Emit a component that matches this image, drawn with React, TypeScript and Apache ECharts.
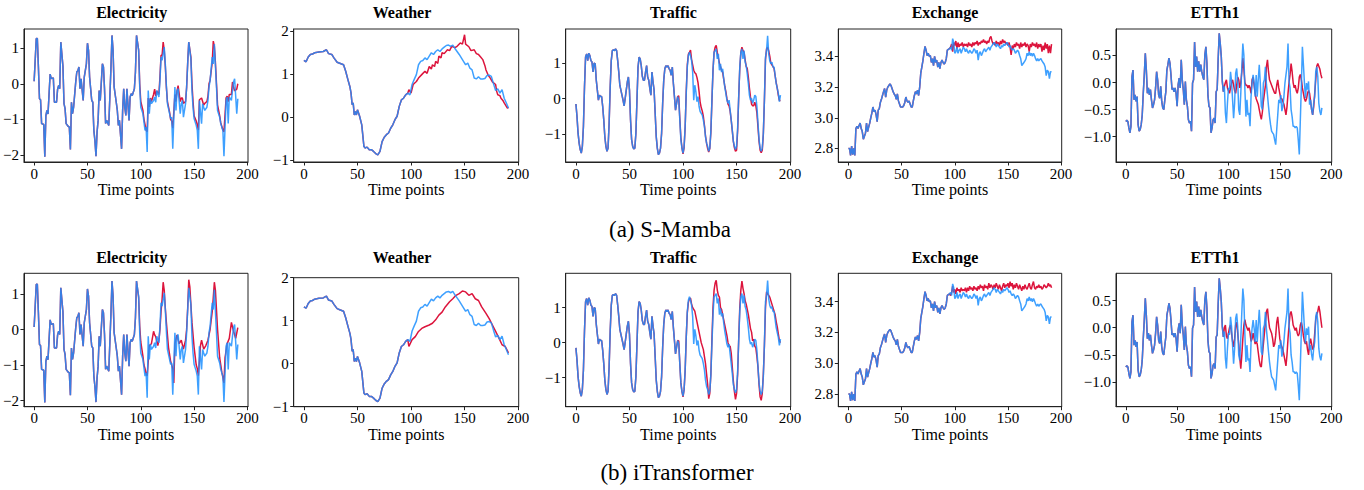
import React, { useEffect, useRef } from "react";
import * as echarts from "echarts";

type P = [number, number];

// ---------- DATA ----------
const X_TICKS = [0, 50, 100, 150, 200];
const PRED_START = 96;

const electricityTruth: P[] = [
  [0, 0.07], [2, 1.27], [3, 1.27], [4, 0.47], [5, -0.42], [6, -0.45], [7, -1.12], [8, -1.13], [9, -1.15], [10, -2.05],
  [11, -0.9], [12, -0.75], [13, -0.85], [15, 0.27], [16, 0.15], [18, 0.16], [19, -0.52], [21, -0.52], [22, -0.15], [23, -0.05],
  [24, -0.14], [25, 1.17], [27, 0.5], [28, -0.56], [29, -0.7], [30, -1.12], [32, -1.2], [33, -1.22], [34, -1.85], [35, -0.52],
  [36, -0.84], [37, -0.66], [39, 0.05], [40, 0.33], [41, 0.37], [42, 0.47], [43, -0.14], [44, 0.14], [46, -0.47], [47, 0.19],
  [49, 0.56], [50, 1.14], [51, 0.94], [52, 0.19], [54, -0.47], [55, -0.52], [56, -1.31], [57, -1.6], [58, -2.04], [59, -1.36],
  [60, -1.03], [61, -0.19], [62, -0.47], [64, 0.56], [65, 0.47], [66, -0.14], [67, -1.12], [68, -1.03], [70, -1.17], [71, -0.37],
  [72, 0.42], [73, 1.36], [74, 0.94], [75, -0.09], [77, -0.52], [78, -0.75], [79, -1.17], [80, -1.03], [82, -1.83], [83, -0.75],
  [84, -0.14], [85, -0.66], [86, -0.89], [87, -0.14], [89, -1.03], [90, -0.37], [91, -0.28], [92, -0.33], [94, -0.14], [95, 0.33],
  [96, 1.36], [98, 0.94], [99, -0.09], [100, -0.66], [102, -0.84], [103, -1.08], [104, -1.31], [105, -1.22], [106, -1.92], [107, -0.19],
  [108, -0.84], [109, -0.42], [110, -0.56], [112, -0.47], [113, -0.37], [114, -0.52], [115, -0.19], [117, -0.37], [118, 0.09], [119, 0.75],
  [120, 0.66], [122, 1.03], [123, 0.56], [124, -0.05], [125, -0.56], [127, -0.84], [128, -0.98], [129, -0.94], [130, -1.83], [132, -0.09],
  [133, -0.75], [134, -0.19], [135, -0.14], [137, -0.84], [138, -0.56], [139, -0.47], [140, -0.94], [142, -0.56], [143, -0.09], [144, 0.56],
  [145, 1.17], [147, 0.7], [148, -0.19], [149, -0.66], [150, -0.98], [152, -1.17], [153, -1.31], [154, -1.83], [155, -0.47], [157, -1.12],
  [158, -0.56], [159, -0.66], [160, -0.75], [162, -0.66], [163, -0.47], [164, -0.09], [165, 0.09], [167, 0.75], [168, 0.56], [169, 1.12],
  [170, 0.5], [171, -0.09], [172, -0.75], [174, -0.94], [175, -1.12], [176, -1.22], [177, -1.31], [178, -2.04], [180, -0.47], [181, -0.37],
  [182, -1.12], [183, -0.37], [185, -0.47], [186, -0.19], [187, 0.05], [188, 0.14], [190, -0.84], [191, -0.42],
];
const electricitySMamba: P[] = [
  [98, 0.95], [99, 0.0], [100, -0.5], [102, -0.75], [103, -1.0], [104, -1.15], [105, -1.3], [106, -1.35], [107, -0.4], [108, -0.65],
  [109, -0.4], [110, -0.5], [112, -0.3], [113, -0.15], [114, -0.35], [115, -0.2], [117, -0.3], [118, 0.2], [119, 0.8], [120, 0.8],
  [121, 1.17], [122, 0.95], [123, 0.5], [124, -0.1], [125, -0.5], [127, -0.8], [128, -1.0], [129, -1.05], [130, -1.25], [132, -0.3],
  [133, -0.5], [134, -0.2], [135, -0.05], [137, -0.5], [138, -0.4], [139, -0.4], [140, -0.55], [142, -0.5], [143, -0.1], [144, 0.6],
  [145, 1.17], [147, 0.75], [148, 0.0], [149, -0.5], [150, -0.9], [152, -1.05], [153, -1.15], [154, -1.3], [155, -0.45], [157, -0.4],
  [158, -0.5], [159, -0.6], [160, -0.55], [162, -0.5], [163, -0.35], [164, 0.0], [165, 0.1], [167, 0.6], [168, 1.2], [169, 1.05],
  [170, 0.6], [171, 0.0], [172, -0.6], [174, -0.9], [175, -1.1], [176, -1.2], [177, -1.3], [178, -1.35], [180, -0.4], [181, -0.35],
  [182, -0.5], [183, -0.3], [185, -0.3], [186, 0.05], [187, -0.1], [188, -0.2], [190, -0.15], [191, 0.0],
];
const electricityITransformer: P[] = [
  [98, 0.9], [99, 0.1], [100, -0.35], [102, -0.75], [103, -1.0], [104, -1.1], [105, -1.25], [106, -1.3], [107, -0.9], [108, -0.45],
  [110, -0.4], [112, -0.05], [113, -0.15], [114, -0.2], [116, -0.45], [117, -0.3], [118, 0.0], [119, 0.5], [120, 0.85], [121, 1.33],
  [122, 1.1], [123, 0.6], [124, 0.2], [126, -0.5], [128, -0.9], [129, -1.0], [130, -1.1], [131, -1.5], [132, -0.4], [134, -0.15],
  [136, -0.4], [138, -0.3], [140, -0.55], [142, -0.3], [143, 0.0], [144, 0.6], [145, 1.4], [146, 1.2], [147, 0.7], [148, 0.2],
  [150, -0.5], [152, -1.0], [153, -1.1], [154, -1.3], [156, -0.45], [157, -0.3], [159, -0.55], [161, -0.45], [163, -0.3], [165, 0.0],
  [167, 0.5], [168, 0.9], [169, 1.33], [170, 1.1], [172, 0.0], [174, -0.8], [176, -1.2], [178, -1.5], [179, -0.8], [181, -0.4],
  [183, -0.25], [185, 0.2], [187, -0.05], [189, -0.25], [191, 0.05],
];

const weatherTruth: P[] = [
  [0, 1.32], [2, 1.29], [4, 1.4], [6, 1.46], [8, 1.47], [10, 1.5], [14, 1.52], [18, 1.53], [21, 1.57], [23, 1.48],
  [26, 1.46], [28, 1.38], [31, 1.28], [34, 1.25], [37, 1.22], [39, 1.07], [41, 0.88], [43, 0.7], [44, 0.56], [45, 0.29],
  [46, 0.33], [47, 0.05], [48, 0.13], [49, 0.05], [50, 0.17], [52, 0.02], [54, -0.18], [56, -0.68], [57, -0.72], [59, -0.7],
  [61, -0.76], [63, -0.76], [65, -0.8], [67, -0.85], [69, -0.88], [71, -0.8], [73, -0.57], [75, -0.47], [77, -0.41], [79, -0.37],
  [81, -0.26], [83, -0.18], [85, -0.06], [87, 0.02], [89, 0.25], [91, 0.4], [93, 0.44], [95, 0.52], [97, 0.56], [99, 0.52],
  [101, 0.76], [103, 0.88], [105, 0.99], [107, 1.22], [109, 1.3], [111, 1.32], [113, 1.38], [115, 1.34], [117, 1.42], [119, 1.5],
  [121, 1.46], [123, 1.53], [125, 1.57], [127, 1.53], [129, 1.59], [131, 1.63], [133, 1.67], [135, 1.68], [137, 1.65], [139, 1.68],
  [141, 1.6], [143, 1.53], [145, 1.46], [147, 1.38], [149, 1.3], [151, 1.22], [153, 1.26], [155, 1.14], [157, 1.1], [159, 0.91],
  [161, 0.89], [163, 0.94], [165, 0.89], [167, 0.89], [169, 0.9], [171, 0.97], [173, 0.98], [175, 0.95], [177, 0.78], [179, 0.62],
  [181, 0.66], [183, 0.56], [185, 0.64], [187, 0.44], [189, 0.33], [191, 0.21],
];
const weatherSMamba: P[] = [
  [98, 0.64], [100, 0.56], [102, 0.76], [105, 0.83], [107, 0.91], [110, 0.99], [113, 1.07], [115, 1.02], [117, 1.18], [119, 1.12],
  [120, 1.22], [122, 1.18], [123, 1.3], [125, 1.25], [126, 1.42], [128, 1.38], [129, 1.5], [131, 1.48], [134, 1.57], [136, 1.55],
  [138, 1.65], [141, 1.62], [143, 1.65], [146, 1.73], [148, 1.7], [150, 1.92], [151, 1.7], [154, 1.64], [156, 1.55], [159, 1.57],
  [161, 1.48], [163, 1.46], [165, 1.4], [167, 1.34], [169, 1.2], [170, 1.1], [172, 0.98], [174, 0.91], [176, 0.82], [179, 0.76],
  [180, 0.6], [181, 0.52], [183, 0.5], [184, 0.44], [186, 0.38], [187, 0.33], [189, 0.25], [190, 0.21], [191, 0.22],
];
const weatherITransformer: P[] = [
  [98, 0.4], [101, 0.56], [104, 0.63], [107, 0.75], [110, 0.82], [113, 0.86], [117, 0.9], [120, 0.94], [123, 1.02], [126, 1.13],
  [129, 1.2], [132, 1.32], [136, 1.44], [139, 1.51], [142, 1.59], [145, 1.63], [148, 1.69], [151, 1.67], [154, 1.59], [157, 1.63],
  [160, 1.51], [163, 1.47], [166, 1.32], [170, 1.17], [173, 1.05], [176, 0.9], [179, 0.75], [182, 0.6], [185, 0.44], [188, 0.4],
  [191, 0.25],
];

// Traffic: one value per time point (index = time point)
const trafficTruth: number[] = [
  -0.15, -0.5, -0.97, -1.25, -1.43, -1.53, -1.34, -0.78, 0.33, 1.17,
  1.26, 1.07, 1.28, 1.21, 1.07, 1.03, 0.75, 1.0, 0.98, 0.52,
  0.24, -0.04, 0.1, 0.06, 0.06, -0.22, -0.6, -1.07, -1.34, -1.48,
  -1.39, -0.69, 0.33, 1.07, 1.35, 1.37, 1.35, 1.4, 1.35, 1.07,
  0.75, 0.38, 0.24, 0.1, -0.04, -0.2, 0.01, 0.24, 0.47, 0.61,
  0.24, -0.6, -1.15, -1.34, -1.41, -1.39, -0.97, -0.04, 0.89, 1.17,
  1.12, 0.93, 0.63, 0.52, 0.52, 0.75, 0.93, 0.61, 0.52, 0.29,
  0.1, 0.75, 0.47, 0.24, -0.41, -1.07, -1.39, -1.57, -1.53, -1.39,
  -0.97, -0.13, 0.52, 0.84, 0.93, 0.89, 0.93, 0.84, 0.8, 0.66,
  0.89, 0.43, 0.06, -0.32, -0.13, 0.06, -0.04, -0.6, -1.15, -1.39,
  -1.53, -1.34, -0.78, 0.15, 0.89, 1.21, 1.31, 1.21, 1.07, 0.75,
  -0.04, 0.38, 0.2, -0.08, 0.06, -0.22, -0.36, -0.41, -0.46, -0.6,
  -0.78, -1.07, -1.25, -1.34, -1.48, -1.39, -0.92, -0.04, 0.8, 1.31,
  1.35, 1.4, 1.12, 1.26, 0.8, 0.98, 0.75, 0.84, 0.56, 0.33,
  0.15, -0.04, -0.13, -0.04, -0.32, -0.6, -0.88, -1.2, -1.34, -1.43,
  -1.34, -0.83, 0.06, 0.89, 1.31, 1.4, 1.12, 1.35, 1.03, 0.93,
  0.7, 0.43, 0.1, -0.04, 0.01, -0.13, -0.04, 0.1, 0.06, -0.22,
  -0.69, -1.15, -1.39, -1.48, -1.39, -0.97, -0.04, 1.17, 1.35, 1.77,
  1.26, 1.07, 0.98, 1.03, 0.89, 0.89, 0.66, 0.43, 0.29, 0.15,
  -0.08, 0.1,
];
// Predictions: one value per time point from PRED_START (96) to 191
const trafficSMamba: number[] = [
  0.08, -0.55, -1.1, -1.38,
  -1.55, -1.38, -0.8, 0.2, 0.95, 1.25, 1.3, 1.37, 1.1, 0.95,
  0.8, 0.73, 0.7, 0.6, 0.45, 0.2, -0.1, -0.25, -0.35, -0.5,
  -0.75, -1.05, -1.25, -1.4, -1.5, -1.4, -0.95, -0.05, 0.8, 1.3,
  1.45, 1.5, 1.3, 1.15, 1.0, 0.9, 0.8, 0.75, 0.55, 0.35,
  0.2, 0.0, -0.15, -0.2, -0.35, -0.6, -0.9, -1.2, -1.38, -1.48,
  -1.45, -0.9, 0.05, 0.85, 1.3, 1.45, 1.35, 1.3, 1.1, 0.9,
  0.85, 0.6, 0.3, 0.05, -0.15, -0.2, -0.2, -0.1, -0.2, -0.4,
  -0.8, -1.2, -1.45, -1.52, -1.45, -1.0, -0.05, 1.1, 1.4, 1.45,
  1.35, 1.2, 1.0, 0.95, 0.9, 0.85, 0.65, 0.45, 0.3, 0.1,
  -0.05, -0.05,
];
const trafficITransformer: number[] = [
  0.05, -0.6, -1.15, -1.4,
  -1.55, -1.35, -0.8, 0.15, 0.85, 1.15, 1.25, 1.27, 1.1, 1.0,
  0.95, 0.9, 0.75, 0.6, 0.45, 0.3, 0.15, 0.0, -0.1, -0.2,
  -0.4, -0.6, -0.9, -1.2, -1.6, -1.45, -0.9, 0.1, 1.0, 1.5,
  1.7, 1.78, 1.5, 1.35, 1.3, 1.0, 0.95, 0.8, 0.65, 0.5,
  0.35, 0.2, 0.0, -0.1, -0.1, -0.3, -0.7, -1.1, -1.4, -1.62,
  -1.45, -0.9, 0.1, 1.0, 1.5, 1.76, 1.55, 1.4, 1.2, 1.1,
  0.95, 0.8, 0.6, 0.4, 0.3, 0.05, 0.1, -0.1, -0.15, -0.4,
  -0.7, -1.2, -1.55, -1.65, -1.45, -0.9, -0.1, 1.0, 1.45, 1.4,
  1.35, 1.3, 1.2, 1.1, 1.0, 0.9, 0.8, 0.6, 0.45, 0.25,
  0.05, 0.0,
];

const exchangeTruth: number[] = [
  2.8, 2.8, 2.755, 2.815, 2.76, 2.8, 2.755, 2.93, 2.945, 2.93,
  2.95, 2.965, 2.93, 2.91, 2.86, 2.88, 2.9, 2.965, 2.91, 2.94,
  2.965, 3.0, 3.03, 3.07, 3.04, 3.05, 3.02, 2.975, 3.05, 3.06,
  3.1, 3.12, 3.145, 3.17, 3.19, 3.135, 3.18, 3.2, 3.21, 3.22,
  3.21, 3.19, 3.17, 3.155, 3.145, 3.12, 3.155, 3.11, 3.09, 3.07,
  3.07, 3.07, 3.08, 3.1, 3.135, 3.11, 3.1, 3.11, 3.09, 3.07,
  3.07, 3.11, 3.145, 3.17, 3.155, 3.18, 3.145, 3.2, 3.29, 3.33,
  3.37, 3.42, 3.465, 3.44, 3.405, 3.42, 3.4, 3.405, 3.36, 3.385,
  3.34, 3.4, 3.36, 3.375, 3.33, 3.36, 3.32, 3.36, 3.375, 3.36,
  3.35, 3.36, 3.385, 3.44, 3.445, 3.45, 3.46, 3.44, 3.515, 3.49,
  3.42, 3.43, 3.46, 3.42, 3.44, 3.45, 3.42, 3.44, 3.46, 3.45,
  3.43, 3.45, 3.43, 3.42, 3.44, 3.43, 3.42, 3.43, 3.45, 3.44,
  3.42, 3.44, 3.375, 3.42, 3.43, 3.405, 3.42, 3.44, 3.45, 3.43,
  3.44, 3.45, 3.46, 3.44, 3.46, 3.47, 3.48, 3.49, 3.48, 3.46,
  3.48, 3.47, 3.46, 3.45, 3.47, 3.46, 3.48, 3.47, 3.48, 3.49,
  3.48, 3.46, 3.47, 3.45, 3.44, 3.45, 3.44, 3.42, 3.43, 3.44,
  3.43, 3.405, 3.385, 3.34, 3.35, 3.36, 3.37, 3.385, 3.42, 3.405,
  3.43, 3.405, 3.42, 3.4, 3.42, 3.405, 3.385, 3.37, 3.385, 3.37,
  3.38, 3.385, 3.37, 3.36, 3.35, 3.33, 3.275, 3.31, 3.3, 3.255,
  3.3, 3.3,
];
const exchangeSMamba: number[] = [
  3.46, 3.48, 3.43, 3.49,
  3.47, 3.5, 3.45, 3.49, 3.46, 3.48, 3.47, 3.49, 3.46, 3.48,
  3.47, 3.48, 3.46, 3.49, 3.47, 3.48, 3.46, 3.49, 3.47, 3.49,
  3.48, 3.5, 3.47, 3.49, 3.48, 3.5, 3.49, 3.51, 3.49, 3.5,
  3.48, 3.5, 3.49, 3.52, 3.53, 3.5, 3.48, 3.49, 3.47, 3.5,
  3.48, 3.49, 3.47, 3.5, 3.48, 3.51, 3.49, 3.5, 3.48, 3.49,
  3.47, 3.49, 3.46, 3.41, 3.47, 3.45, 3.48, 3.46, 3.49, 3.47,
  3.48, 3.45, 3.49, 3.46, 3.48, 3.47, 3.49, 3.46, 3.48, 3.47,
  3.43, 3.48, 3.46, 3.49, 3.47, 3.48, 3.46, 3.49, 3.45, 3.48,
  3.46, 3.48, 3.43, 3.47, 3.44, 3.49, 3.45, 3.48, 3.42, 3.47,
  3.42, 3.48,
];
const exchangeITransformer: number[] = [
  3.44, 3.46, 3.5, 3.46,
  3.48, 3.45, 3.49, 3.47, 3.48, 3.46, 3.49, 3.47, 3.48, 3.47,
  3.49, 3.46, 3.49, 3.47, 3.5, 3.48, 3.49, 3.47, 3.5, 3.48,
  3.49, 3.47, 3.5, 3.48, 3.51, 3.49, 3.5, 3.47, 3.51, 3.49,
  3.5, 3.48, 3.52, 3.49, 3.51, 3.5, 3.48, 3.51, 3.49, 3.52,
  3.5, 3.48, 3.51, 3.49, 3.47, 3.5, 3.52, 3.49, 3.51, 3.5,
  3.52, 3.49, 3.53, 3.5, 3.52, 3.48, 3.51, 3.49, 3.52, 3.5,
  3.48, 3.51, 3.49, 3.47, 3.5, 3.48, 3.51, 3.49, 3.48, 3.5,
  3.52, 3.49, 3.48, 3.51, 3.53, 3.49, 3.48, 3.5, 3.49, 3.51,
  3.49, 3.5, 3.48, 3.49, 3.51, 3.5, 3.49, 3.5, 3.52, 3.5,
  3.51, 3.49,
];

const etth1Truth: number[] = [
  -0.72, -0.7, -0.72, -0.84, -0.93, -0.81, 0.11, 0.23, -0.32, -0.23,
  -0.35, -0.26, -0.78, -0.9, -0.87, -0.78, -0.6, -0.2, 0.14, 0.54,
  0.23, -0.2, -0.1, -0.23, -0.13, -0.32, -0.47, -0.41, -0.32, -0.1,
  0.2, 0.05, -0.23, -0.29, -0.07, -0.35, -0.47, -0.5, -0.32, -0.17,
  0.23, 0.33, 0.45, 0.36, 0.14, -0.13, -0.1, -0.17, -0.1, -0.2,
  -0.44, -0.04, 0.08, -0.1, 0.42, 0.05, -0.13, -0.41, 0.02, -0.32,
  -0.44, -0.69, -0.75, -0.72, -0.9, -0.01, 0.05, 0.75, 0.29, 0.48,
  0.2, 0.39, 0.2, 0.33, 0.2, 0.11, 0.05, 0.51, 0.66, 0.36,
  -0.23, -0.44, -0.47, -0.93, -0.84, -0.69, -0.66, -0.75, -0.17, -0.13,
  0.45, 0.91, 0.72, 0.48, 0.02, -0.17, -0.07, -0.56, -0.75, -0.38,
  -0.1, -0.13, 0.2, 0.02, -0.32, -0.66, -0.38, 0.17, 0.26, 0.02,
  -0.5, -0.6, -0.2, 0.29, 0.72, 0.51, -0.13, -0.63, -0.32, -0.6,
  -0.56, -0.81, -0.26, -0.01, 0.14, -0.01, -0.26, 0.14, -0.26, 0.05,
  0.33, -0.01, -0.44, -0.5, -0.01, 0.05, 0.29, -0.04, -0.23, -0.44,
  -0.63, -0.78, -0.9, -0.93, -0.96, -1.06, -1.15, -0.87, -0.6, -0.32,
  -0.38, -0.23, -0.53, -0.44, -0.26, -0.01, 0.14, 0.29, 0.72, 0.02,
  -0.1, -0.5, -0.63, -0.81, -0.81, -0.84, -0.81, -0.84, -1.06, -1.33,
  -0.69, -0.07, 0.66, 0.33, -0.01, -0.29, -0.01, -0.13, 0.02, -0.41,
  -0.32, -0.5, -0.6, -0.38, -0.26, 0.2, 0.29, 0.11, -0.38, -0.53,
  -0.6, -0.47,
];
const etth1SMamba: number[] = [
  -0.07, 0.0, 0.05, -0.1,
  -0.15, -0.2, -0.1, 0.0, 0.05, -0.05, -0.15, -0.2, -0.05, 0.1,
  0.05, -0.1, 0.0, 0.2, 0.45, 0.25, 0.0, -0.05, -0.05, -0.1,
  -0.05, -0.1, -0.2, 0.05, 0.1, -0.05, -0.2, -0.3, -0.35, -0.4,
  -0.5, -0.6, -0.68, -0.55, -0.35, -0.2, -0.05, 0.3, 0.42, 0.2,
  0.05, 0.0, -0.05, -0.1, -0.15, -0.2, -0.2, -0.05, 0.05, -0.1,
  -0.2, -0.3, -0.3, -0.35, -0.4, -0.5, -0.6, -0.45, -0.2, 0.0,
  0.15, 0.35, 0.2, 0.0, -0.1, -0.05, -0.15, -0.2, -0.1, 0.1,
  0.15, 0.05, -0.1, -0.2, -0.3, -0.35, -0.3, -0.2, -0.15, -0.2,
  -0.35, -0.5, -0.6, -0.45, -0.2, 0.05, 0.3, 0.35, 0.3, 0.25,
  0.15, 0.08,
];
const etth1ITransformer: number[] = [
  0.0, 0.05, -0.15, -0.2,
  -0.1, 0.0, 0.05, -0.1, -0.25, -0.35, -0.2, 0.05, 0.1, -0.1,
  -0.3, -0.55, -0.75, -0.5, -0.2, 0.05, 0.15, 0.05, 0.0, -0.05,
  0.0, -0.1, -0.25, -0.2, -0.1, -0.2, -0.3, -0.25, -0.3, -0.45,
  -0.6, -0.7, -0.72, -0.5, -0.3, -0.1, 0.1, 0.3, 0.35, 0.15,
  0.0, -0.05, -0.1, -0.2, -0.35, -0.3, -0.15, 0.1, 0.2, 0.0,
  -0.2, -0.3, -0.35, -0.4, -0.5, -0.6, -0.7, -0.5, -0.2, 0.05,
  0.25, 0.3, 0.2, 0.05, 0.0, -0.05, 0.0, -0.1, -0.15, -0.1,
  0.05, 0.1, 0.0, -0.15, -0.25, -0.3, -0.25, -0.4, -0.5, -0.3,
  -0.2, -0.3, -0.4, -0.35, -0.1, 0.15, 0.25, 0.3, 0.4, 0.3,
  0.15, 0.0,
];

const datasetNames = ["Electricity", "Weather", "Traffic", "Exchange", "ETTh1"];
const modelCaptions = ["(a) S-Mamba", "(b) iTransformer"];
const yTickValues: number[][] = [
  [-2, -1, 0, 1],
  [-1, 0, 1, 2],
  [-1, 0, 1],
  [2.8, 3.0, 3.2, 3.4],
  [-1.0, -0.5, 0.0, 0.5],
];
const yTickDecimals = [0, 0, 0, 1, 1];
// y-axis extents per row (S-Mamba row, iTransformer row)
const yExtents: [number, number][][] = [
  [[-2.2, 1.54], [-1.047, 2.054], [-1.78, 1.96], [2.712, 3.578], [-1.47, 0.99]],
  [[-2.17, 1.58], [-1.0, 2.0], [-1.83, 1.98], [2.718, 3.584], [-1.45, 1.0]],
];

// ---------- BUILD ----------
const toPairs = (arr: number[], start: number): P[] => arr.map((v, i) => [start + i, v] as P);
const truthSeries: P[][] = [
  electricityTruth,
  weatherTruth,
  toPairs(trafficTruth, 0),
  toPairs(exchangeTruth, 0),
  toPairs(etth1Truth, 0),
];
const predSeries: P[][][] = [
  [electricitySMamba, weatherSMamba, toPairs(trafficSMamba, PRED_START), toPairs(exchangeSMamba, PRED_START), toPairs(etth1SMamba, PRED_START)],
  [electricityITransformer, weatherITransformer, toPairs(trafficITransformer, PRED_START), toPairs(exchangeITransformer, PRED_START), toPairs(etth1ITransformer, PRED_START)],
];

const FONT = '"Liberation Serif", "Times New Roman", serif';
const RED = "#DC143C";
const BLUE = "#1E90FF";
const COL_LEFT = [23.3, 293.7, 565.7, 838.3, 1116];
const COL_RIGHT = [248, 518.7, 790.7, 1061.7, 1331.7];
const TITLE_X = [131.7, 402, 673.5, 945, 1215];
const ROW_TOP = [29, 273.3];
const ROW_BOTTOM = [162, 406.7];
const ROW_TITLE_Y = [12.7, 257.3];
const CAPTION_POS = [[670, 229], [677, 472]];

function fmtTick(v: number, dec: number) {
  return (dec ? v.toFixed(dec) : String(Math.round(v))).replace("-", "\u2212");
}

function buildOption() {
  const grid: any[] = [];
  const xAxis: any[] = [];
  const yAxis: any[] = [];
  const series: any[] = [];
  const graphic: any[] = [];
  let idx = 0;
  for (let r = 0; r < 2; r++) {
    for (let c = 0; c < 5; c++) {
      const top = r === 1 && c === 1 ? 277.7 : ROW_TOP[r];
      grid.push({
        left: COL_LEFT[c],
        top,
        width: COL_RIGHT[c] - COL_LEFT[c],
        height: ROW_BOTTOM[r] - top,
        show: true,
        borderColor: "#222",
        borderWidth: 1,
        backgroundColor: "transparent",
      });
      xAxis.push({
        type: "value",
        gridIndex: idx,
        min: -9.55,
        max: 200.55,
        name: "Time points",
        nameLocation: "middle",
        nameGap: 15,
        nameTextStyle: { fontFamily: FONT, fontSize: 16, color: "#000" },
        axisLine: { show: true, onZero: false, lineStyle: { color: "#222", width: 1 } },
        axisTick: { show: true, length: 3.5, lineStyle: { color: "#222" }, customValues: X_TICKS },
        axisLabel: { customValues: X_TICKS, fontFamily: FONT, fontSize: 15, color: "#000", margin: 4 },
        splitLine: { show: false },
      });
      const dec = yTickDecimals[c];
      yAxis.push({
        type: "value",
        gridIndex: idx,
        min: yExtents[r][c][0],
        max: yExtents[r][c][1],
        axisLine: { show: true, onZero: false, lineStyle: { color: "#222", width: 1 } },
        axisTick: { show: true, length: 3.5, lineStyle: { color: "#222" }, customValues: yTickValues[c] },
        axisLabel: {
          customValues: yTickValues[c],
          fontFamily: FONT,
          fontSize: 15,
          color: "#000",
          margin: 5,
          formatter: (v: number) => fmtTick(v, dec),
        },
        splitLine: { show: false },
      });
      const truth = truthSeries[c];
      const pred = predSeries[r][c];
      const red = truth.filter((p) => p[0] < pred[0][0]).concat(pred);
      series.push({
        type: "line",
        xAxisIndex: idx,
        yAxisIndex: idx,
        data: red,
        showSymbol: false,
        symbol: "none",
        silent: true,
        lineStyle: { color: RED, width: 1.5 },
        itemStyle: { color: RED },
        z: 2,
      });
      series.push({
        type: "line",
        xAxisIndex: idx,
        yAxisIndex: idx,
        data: truth,
        showSymbol: false,
        symbol: "none",
        silent: true,
        lineStyle: { color: BLUE, width: 1.5, opacity: 0.86 },
        itemStyle: { color: BLUE },
        z: 3,
      });
      graphic.push({
        type: "text",
        x: TITLE_X[c],
        y: ROW_TITLE_Y[r],
        style: {
          text: datasetNames[c],
          font: `bold 16px ${FONT}`,
          fill: "#000",
          align: "center",
          verticalAlign: "middle",
          textAlign: "center",
          textVerticalAlign: "middle",
        },
      });
      idx++;
    }
    graphic.push({
      type: "text",
      x: CAPTION_POS[r][0],
      y: CAPTION_POS[r][1],
      style: {
        text: modelCaptions[r],
        font: `23px ${FONT}`,
        fill: "#000",
        align: "center",
        verticalAlign: "middle",
        textAlign: "center",
        textVerticalAlign: "middle",
      },
    });
  }
  return {
    animation: false,
    backgroundColor: "#fff",
    grid,
    xAxis,
    yAxis,
    series,
    graphic,
  };
}

export default function App() {
  const ref = useRef<HTMLDivElement>(null);
  useEffect(() => {
    document.body.style.margin = "0";
    const chart = echarts.init(ref.current!, null, { renderer: "svg" });
    chart.setOption(buildOption() as any);
    return () => chart.dispose();
  }, []);
  return <div ref={ref} style={{ width: 1364, height: 490 }} />;
}
